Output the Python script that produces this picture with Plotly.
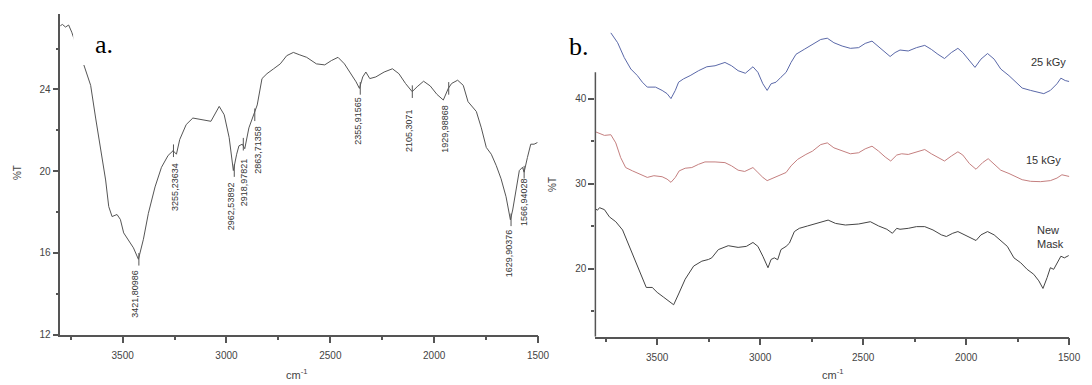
import plotly.graph_objects as go

# ---------------- Panel a: New mask FTIR spectrum ----------------
a_wn = [3805, 3790, 3775, 3760, 3745, 3725, 3700, 3686, 3654, 3630, 3606, 3582, 3567, 3551,
        3527, 3511, 3495, 3471, 3448, 3424, 3400, 3376, 3344, 3313, 3281, 3257, 3241,
        3225, 3194, 3162, 3122, 3075, 3035, 3011, 2987, 2967, 2951, 2940, 2924, 2912,
        2892, 2868, 2852, 2829, 2805, 2773, 2741, 2710, 2678, 2650, 2614, 2567, 2527,
        2495, 2463, 2432, 2400, 2376, 2360, 2344, 2329, 2310, 2281, 2241, 2201, 2170,
        2138, 2106, 2082, 2051, 2019, 1987, 1956, 1932, 1916, 1887, 1860, 1837, 1797,
        1773, 1749, 1725, 1701, 1678, 1654, 1633, 1622, 1606, 1590, 1575, 1567, 1551,
        1535, 1519, 1503]
a_t = [27.08, 27.18, 27.05, 27.15, 26.8, 26.2, 25.6, 25.17, 24.2, 22.6, 21.16, 19.57, 18.27, 17.78,
       17.88, 17.64, 16.98, 16.58, 16.25, 15.69, 16.67, 17.94, 19.23, 20.19, 20.77, 21.0, 20.83,
       21.55, 22.28, 22.6, 22.52, 22.44, 23.17, 22.76, 21.64, 20.03, 20.83, 21.24, 21.32, 21.1,
       22.12, 22.76, 23.24, 24.53, 24.77, 25.01, 25.25, 25.65, 25.81, 25.7, 25.57, 25.25, 25.2,
       25.41, 25.57, 25.25, 24.77, 24.37, 24.05, 24.61, 24.85, 24.53, 24.61, 24.85, 25.01, 24.77,
       24.29, 23.89, 24.13, 24.4, 24.17, 23.76, 23.48, 24.05, 24.29, 24.45, 24.2, 23.4, 22.92,
       22.12, 21.16, 20.83, 20.27, 19.63, 18.75, 17.62, 18.1, 19.07, 20.03, 20.19, 19.95, 20.67,
       21.32, 21.32, 21.4]

peak_labels = ["3421,80986", "3255,23634", "2962,53892", "2918,97821", "2863,71358",
               "2355,91565", "2105,3071", "1929,98868", "1629,90376", "1566,94028"]
peak_wn = [3421.8, 3255.2, 2962.5, 2919.0, 2863.7, 2355.9, 2105.3, 1930.0, 1629.9, 1566.9]
peak_t = [15.69, 21.0, 20.03, 21.32, 22.76, 24.05, 23.89, 24.05, 17.62, 19.95]
label_wn = [3438, 3248, 2981, 2914, 2852, 2367, 2124, 1948, 1638, 1567]
label_t = [13.98, 19.23, 18.31, 19.47, 21.06, 22.46, 21.98, 22.07, 16.0, 18.5]

# ---------------- Panel b: three spectra ----------------
b25_wn = [3725, 3692, 3660, 3628, 3596, 3572, 3548, 3508, 3476, 3452, 3433, 3412, 3396, 3372,
          3340, 3299, 3259, 3219, 3171, 3139, 3107, 3072, 3035, 3011, 2987, 2966, 2947, 2923,
          2899, 2874, 2850, 2826, 2786, 2746, 2706, 2674, 2642, 2602, 2562, 2522, 2490, 2457,
          2425, 2393, 2369, 2345, 2321, 2281, 2241, 2201, 2169, 2137, 2105, 2072, 2040, 2016,
          1984, 1957, 1928, 1896, 1864, 1832, 1792, 1760, 1728, 1687, 1656, 1623, 1591, 1559,
          1540, 1519, 1498]
b25_t = [47.73, 46.57, 44.83, 43.48, 42.7, 41.93, 41.35, 41.35, 40.96, 40.58, 40.0, 40.96, 41.93, 42.32,
         42.7, 43.28, 43.74, 43.86, 44.25, 43.86, 43.28, 42.98, 43.74, 43.09, 41.74, 40.96, 41.74, 41.93,
         42.51, 43.09, 44.25, 45.21, 45.79, 46.37, 46.95, 47.1, 46.57, 46.18, 45.91, 45.99, 46.49, 46.76,
         46.11, 45.41, 44.95, 45.41, 45.71, 45.6, 45.99, 46.26, 45.79, 45.21, 44.71, 45.41, 45.91, 45.41,
         44.44, 43.67, 44.64, 45.3, 44.64, 43.48, 42.7, 41.93, 41.24, 40.96, 40.78, 40.58, 40.96, 41.74,
         42.4, 42.12, 42.0]

b15_wn = [3800, 3780, 3756, 3725, 3701, 3677, 3653, 3620, 3588, 3548, 3516, 3476, 3452, 3433,
          3412, 3393, 3364, 3332, 3299, 3268, 3219, 3171, 3139, 3107, 3075, 3035, 3011, 2987,
          2966, 2938, 2907, 2874, 2850, 2818, 2778, 2746, 2706, 2674, 2642, 2602, 2562, 2522,
          2490, 2457, 2425, 2393, 2366, 2337, 2313, 2281, 2241, 2201, 2169, 2137, 2105, 2072,
          2040, 2016, 1984, 1952, 1920, 1893, 1864, 1832, 1792, 1760, 1728, 1687, 1639, 1591,
          1559, 1535, 1514, 1494]
b15_t = [36.1, 35.94, 35.67, 35.75, 34.79, 33.05, 31.89, 31.5, 31.19, 30.73, 30.93, 30.81, 30.53, 30.15,
         30.73, 31.5, 31.81, 31.89, 32.27, 32.55, 32.55, 32.47, 32.09, 31.58, 31.43, 31.89, 31.31, 30.73,
         30.35, 30.65, 30.93, 31.31, 32.09, 32.85, 33.43, 33.82, 34.59, 34.79, 34.21, 33.82, 33.51, 33.63,
         34.09, 34.4, 33.82, 33.13, 32.66, 33.36, 33.51, 33.43, 33.74, 34.01, 33.51, 33.05, 32.66, 33.24,
         33.74, 33.36, 32.35, 31.69, 32.47, 32.93, 32.27, 31.58, 31.19, 30.81, 30.46, 30.27, 30.23, 30.35,
         30.65, 31.04, 30.93, 30.81]

bnm_wn = [3800, 3790, 3780, 3756, 3732, 3701, 3668, 3636, 3604, 3572, 3553, 3524, 3500, 3468,
          3441, 3420, 3396, 3364, 3323, 3283, 3251, 3235, 3203, 3155, 3107, 3067, 3035, 3011,
          2987, 2962, 2947, 2931, 2915, 2899, 2874, 2858, 2834, 2810, 2770, 2730, 2690, 2670,
          2634, 2586, 2522, 2465, 2425, 2385, 2358, 2337, 2321, 2281, 2241, 2201, 2161, 2120,
          2096, 2065, 2040, 2008, 1976, 1952, 1928, 1896, 1864, 1832, 1800, 1768, 1735, 1704,
          1672, 1647, 1627, 1607, 1591, 1575, 1559, 1540, 1523, 1502]
bnm_t = [27.06, 26.87, 27.17, 26.94, 26.09, 25.52, 24.55, 22.62, 20.69, 18.76, 17.79, 17.79, 17.21, 16.63,
         16.13, 15.75, 17.02, 18.76, 20.3, 20.88, 21.08, 21.27, 22.24, 22.7, 22.5, 22.62, 23.08, 22.62,
         21.46, 20.11, 21.08, 21.27, 21.05, 22.24, 22.62, 23.0, 24.36, 24.74, 25.02, 25.32, 25.63, 25.71,
         25.32, 25.13, 25.25, 25.52, 25.02, 24.63, 24.16, 24.74, 24.63, 24.74, 24.94, 24.94, 24.55, 23.97,
         23.78, 24.16, 24.36, 23.97, 23.58, 23.31, 23.97, 24.36, 23.97, 23.31, 22.62, 21.27, 20.69, 19.92,
         19.34, 18.56, 17.67, 18.94, 20.11, 19.92, 20.69, 21.46, 21.27, 21.54]

series_labels = ["25 kGy", "15 kGy", "New<br>Mask"]
series_label_wn = [1600, 1624, 1590]
series_label_t = [44.29, 32.82, 23.78]

x_ticks = [3500, 3000, 2500, 2000, 1500]
x_minor = [3750, 3250, 2750, 2250, 1750]
a_yticks = [12, 16, 20, 24]
a_yminor = [14, 18, 22, 26]
b_yticks = [20, 30, 40]
b_yminor = [15, 25, 35]

W, H = 1092, 385
AX = "#555555"
TXT = "#444444"
SANS = "Liberation Sans, Arial, sans-serif"
SERIF = "Liberation Serif, Times New Roman, serif"

fig = go.Figure()
fig.add_trace(go.Scatter(x=a_wn, y=a_t, mode="lines", line=dict(color="#555555", width=1),
                         xaxis="x", yaxis="y", showlegend=False, hoverinfo="skip"))
fig.add_trace(go.Scatter(x=peak_wn, y=peak_t, mode="markers",
                         marker=dict(symbol="line-ns", size=9, line=dict(color="#555555", width=1)),
                         xaxis="x", yaxis="y", showlegend=False, hoverinfo="skip"))
fig.add_trace(go.Scatter(x=b25_wn, y=b25_t, mode="lines", line=dict(color="#5a68a8", width=1),
                         xaxis="x2", yaxis="y2", showlegend=False))
fig.add_trace(go.Scatter(x=b15_wn, y=b15_t, mode="lines", line=dict(color="#c47f7f", width=1),
                         xaxis="x2", yaxis="y2", showlegend=False))
fig.add_trace(go.Scatter(x=bnm_wn, y=bnm_t, mode="lines", line=dict(color="#444444", width=1),
                         xaxis="x2", yaxis="y2", showlegend=False))

tickfont = dict(family=SANS, size=10, color=TXT)

def xax(domain, anchor):
    return dict(domain=domain, anchor=anchor, range=[3800, 1500], tickvals=x_ticks,
                ticks="outside", ticklen=7, tickwidth=1.5, tickcolor=AX, ticklabelstandoff=4,
                minor=dict(tickvals=x_minor, ticks="outside", ticklen=4, tickwidth=1.5, tickcolor=AX),
                showline=True, linecolor=AX, linewidth=1.5, showgrid=False, zeroline=False,
                tickfont=tickfont, fixedrange=True)

fig.update_layout(
    width=W, height=H, margin=dict(l=0, r=0, t=0, b=0),
    paper_bgcolor="white", plot_bgcolor="white",
    xaxis=xax([61 / W, 544 / W], "y"),
    yaxis=dict(domain=[1 - 340 / H, 1 - 14 / H], anchor="x", range=[12, 27.7], tickvals=a_yticks,
               ticks="outside", ticklen=6, tickwidth=1.5, tickcolor=AX,
               minor=dict(tickvals=a_yminor, ticks="outside", ticklen=3, tickwidth=1.5, tickcolor=AX),
               showline=True, linecolor=AX, linewidth=1.5, showgrid=False, zeroline=False,
               tickfont=tickfont, fixedrange=True),
    xaxis2=xax([602 / W, 1081 / W], "y2"),
    yaxis2=dict(domain=[1 - 342 / H, 1 - 25 / H], anchor="x2", range=[12, 48.7], tickvals=b_yticks,
                ticks="outside", ticklen=6, tickwidth=1.5, tickcolor=AX,
                minor=dict(tickvals=b_yminor, ticks="outside", ticklen=3, tickwidth=1.5, tickcolor=AX),
                showline=False, showgrid=False, zeroline=False,
                tickfont=tickfont, fixedrange=True),
)

# partial y axis line of panel b, and white label box in panel a
fig.add_shape(type="line", xref="x2 domain", yref="y2", x0=0, x1=0, y0=12, y1=43.1,
              line=dict(color=AX, width=1.5))
fig.add_shape(type="rect", xref="paper", yref="paper", x0=74 / W, x1=130 / W,
              y0=1 - 66 / H, y1=1 - 30 / H, fillcolor="white", line=dict(width=0), layer="above")

ann = []
for lab, xw, yt in zip(peak_labels, label_wn, label_t):
    ann.append(dict(x=xw, y=yt, xref="x", yref="y", text=lab, textangle=-90, showarrow=False,
                    xanchor="center", yanchor="middle",
                    font=dict(family=SANS, size=9, color="#333333")))
for lab, xw, yt in zip(series_labels, series_label_wn, series_label_t):
    ann.append(dict(x=xw, y=yt, xref="x2", yref="y2", text=lab, showarrow=False, align="left",
                    xanchor="center", yanchor="middle",
                    font=dict(family=SANS, size=11, color="#333333")))
# panel letters
ann.append(dict(x=105 / W, y=1 - 45 / H, xref="paper", yref="paper", text="a.", showarrow=False,
                xanchor="center", yanchor="middle",
                font=dict(family=SERIF, size=26, color="black")))
ann.append(dict(x=585 / W, y=1 - 47 / H, xref="paper", yref="paper", text="b.", showarrow=False,
                xanchor="center", yanchor="middle",
                font=dict(family=SERIF, size=26, color="black")))
# axis titles
for xc in [300, 842]:
    ann.append(dict(x=xc / W, y=1 - 380 / H, xref="paper", yref="paper", text="cm<sup>-1</sup>",
                    showarrow=False, xanchor="center", yanchor="middle",
                    font=dict(family=SANS, size=11, color=TXT)))
for xc, yc in [(17, 175), (558, 187)]:
    ann.append(dict(x=xc / W, y=1 - yc / H, xref="paper", yref="paper", text="%T", textangle=-90,
                    showarrow=False, xanchor="center", yanchor="middle",
                    font=dict(family=SANS, size=10, color=TXT)))
fig.update_layout(annotations=ann)

fig.write_html("out.html")
